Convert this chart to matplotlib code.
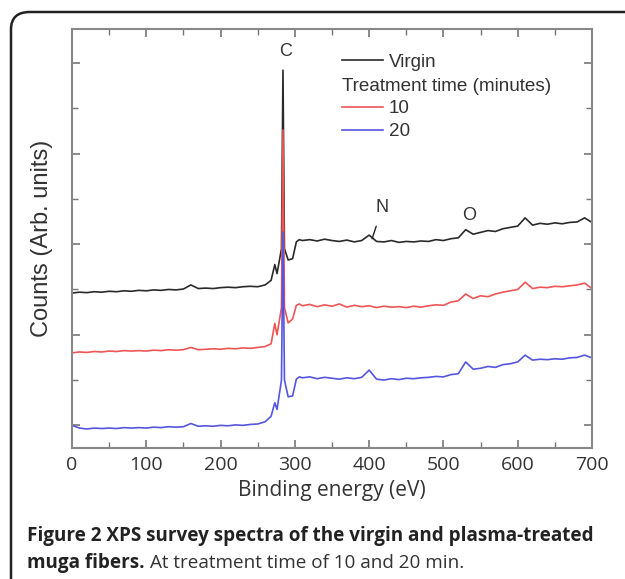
import matplotlib
matplotlib.use("Agg")
import matplotlib.pyplot as plt
from matplotlib.patches import FancyBboxPatch
from matplotlib.lines import Line2D

# binding energy grid (eV)
energy = [0, 10, 20, 30, 40, 50, 60, 70, 80, 90, 100, 110, 120, 130, 140, 150,
          160, 170, 180, 190, 200, 210, 220, 230, 240, 250, 260,
          268, 273, 276, 282, 284, 286, 291, 297, 302, 306,
          310, 320, 330, 340, 350, 360, 370, 380, 390, 400, 410, 420, 430,
          440, 450, 460, 470, 480, 490, 500, 510, 520, 530, 540, 550, 560,
          570, 580, 590, 600, 610, 620, 630, 640, 650, 660, 670, 680, 690, 700]

virgin = [3.42, 3.44, 3.43, 3.45, 3.44, 3.46, 3.45, 3.47, 3.46, 3.48, 3.47, 3.49, 3.48,
          3.50, 3.49, 3.51, 3.60, 3.52, 3.53, 3.52, 3.54, 3.55, 3.54, 3.56, 3.57, 3.56, 3.60,
          3.70, 4.05, 3.85, 4.40, 8.34, 4.40, 4.15, 4.18, 4.55, 4.60,
          4.58, 4.60, 4.57, 4.61, 4.58, 4.56, 4.59, 4.55, 4.58, 4.70, 4.56, 4.55, 4.58,
          4.54, 4.56, 4.55, 4.57, 4.56, 4.60, 4.58, 4.62, 4.64, 4.82, 4.72, 4.76, 4.80,
          4.78, 4.84, 4.87, 4.90, 5.08, 4.92, 4.96, 4.94, 4.97, 4.95, 4.98, 4.99, 5.08, 4.98]

min10 = [2.10, 2.12, 2.11, 2.13, 2.12, 2.14, 2.13, 2.15, 2.14, 2.15, 2.14, 2.16, 2.15,
         2.17, 2.16, 2.17, 2.22, 2.17, 2.18, 2.19, 2.18, 2.20, 2.19, 2.21, 2.20, 2.22, 2.24,
         2.30, 2.75, 2.50, 3.10, 7.02, 3.10, 2.76, 2.85, 3.15, 3.18,
         3.14, 3.17, 3.12, 3.16, 3.13, 3.18, 3.11, 3.15, 3.12, 3.14, 3.10, 3.13, 3.11,
         3.12, 3.10, 3.13, 3.11, 3.14, 3.16, 3.15, 3.22, 3.25, 3.40, 3.30, 3.36, 3.34,
         3.40, 3.44, 3.47, 3.50, 3.66, 3.52, 3.55, 3.54, 3.57, 3.56, 3.58, 3.60, 3.64, 3.52]

min20 = [0.50, 0.44, 0.42, 0.44, 0.43, 0.44, 0.43, 0.45, 0.44, 0.45, 0.44, 0.46, 0.45,
         0.47, 0.46, 0.47, 0.54, 0.48, 0.49, 0.48, 0.50, 0.49, 0.51, 0.50, 0.52, 0.53, 0.58,
         0.70, 1.00, 0.85, 1.50, 4.77, 1.50, 1.13, 1.15, 1.52, 1.57,
         1.55, 1.57, 1.53, 1.56, 1.54, 1.52, 1.55, 1.53, 1.56, 1.72, 1.52, 1.50, 1.53,
         1.51, 1.54, 1.53, 1.55, 1.56, 1.58, 1.57, 1.62, 1.64, 1.90, 1.74, 1.76, 1.80,
         1.78, 1.84, 1.86, 1.90, 2.05, 1.94, 1.96, 1.95, 1.97, 1.96, 1.99, 2.00, 2.05, 1.99]

x_ticks = [0, 100, 200, 300, 400, 500, 600, 700]
peak_labels = [("C", 287, 8.75), ("N", 418, 5.32), ("O", 535, 5.14)]

AX_FONT = "Liberation Sans"
TXT = "#333333"

fig = plt.figure(figsize=(6.25, 5.79), dpi=100)

# rounded frame of the figure panel (runs off the right and bottom edges)
frame = FancyBboxPatch((11 / 625, -0.05), 1.1, 1 - 12 / 579 + 0.05,
                       boxstyle="round,pad=0,rounding_size=0.03",
                       transform=fig.transFigure, fill=False,
                       edgecolor="#222222", linewidth=1.8)
fig.patches.append(frame)

ax = fig.add_axes([72 / 625, 1 - 448 / 579, 520 / 625, 419 / 579])

ax.plot(energy, virgin, color="#2a2a2a", lw=1.2)
ax.plot(energy, min10, color="#ee5555", lw=1.2)
ax.plot(energy, min20, color="#5555e0", lw=1.2)

ax.set_xlim(0, 700)
ax.set_ylim(0, 9.25)
ax.set_xticks(x_ticks)
ax.set_xticks([50, 150, 250, 350, 450, 550, 650], minor=True)
ax.set_yticks([0.5, 2.5, 4.5, 6.5, 8.5])
ax.set_yticks([1.5, 3.5, 5.5, 7.5], minor=True)
ax.set_yticklabels([])
ax.tick_params(which="both", direction="in", top=True, right=True, color="#777777")
ax.tick_params(which="major", length=6, width=1.2)
ax.tick_params(which="minor", length=4, width=1.0)
ax.tick_params(axis="x", labelsize=14, labelcolor=TXT, pad=6)
for lab in ax.get_xticklabels():
    lab.set_family("Open Sans")
for s in ax.spines.values():
    s.set_color("#888888")
    s.set_linewidth(1.5)

ax.set_xlabel("Binding energy (eV)", family="Open Sans", fontsize=15,
              color=TXT, labelpad=4)
ax.set_ylabel("Counts (Arb. units)", family=AX_FONT, fontsize=17,
              color=TXT, labelpad=10)

# peak labels
ax.text(peak_labels[0][1], peak_labels[0][2], peak_labels[0][0], family=AX_FONT,
        fontsize=13, color=TXT, ha="center", va="center")
ax.annotate(peak_labels[1][0], xy=(404, 4.62), xytext=(peak_labels[1][1], peak_labels[1][2]),
            family=AX_FONT, fontsize=13, color=TXT, ha="center", va="center",
            arrowprops=dict(arrowstyle="-", color="#222222", lw=1.0, shrinkA=6, shrinkB=0))
ax.text(peak_labels[2][1], peak_labels[2][2], peak_labels[2][0], family=AX_FONT,
        fontsize=13, color=TXT, ha="center", va="center")

# legend
LEG = 13.6
h_v = Line2D([], [], color="#2a2a2a", lw=1.2)
h_10 = Line2D([], [], color="#ee5555", lw=1.2)
h_20 = Line2D([], [], color="#5555e0", lw=1.2)
leg1 = ax.legend([h_v], ["Virgin"], loc="upper left", bbox_to_anchor=(0.519, 0.942),
                 frameon=False, prop={"family": AX_FONT, "size": LEG},
                 handlelength=2.2, handletextpad=0.3, borderaxespad=0, borderpad=0)
for t in leg1.get_texts():
    t.set_color(TXT)
ax.add_artist(leg1)
leg2 = ax.legend([h_10, h_20], ["10", "20"], loc="upper left",
                 bbox_to_anchor=(0.519, 0.884), frameon=False,
                 title="Treatment time (minutes)", alignment="left",
                 prop={"family": AX_FONT, "size": LEG},
                 title_fontproperties={"family": AX_FONT, "size": LEG},
                 handlelength=2.2, handletextpad=0.3, borderaxespad=0, borderpad=0,
                 labelspacing=0.3)
leg2.get_title().set_color(TXT)
for t in leg2.get_texts():
    t.set_color(TXT)

# caption
CAP = 13.6
fig.text(27 / 625, 1 - 536 / 579,
         "Figure 2 XPS survey spectra of the virgin and plasma-treated",
         family="Open Sans", weight="bold", fontsize=CAP, color="#222222",
         va="center", ha="left")
t1 = fig.text(27 / 625, 1 - 563 / 579, "muga fibers.", family="Open Sans",
              weight="bold", fontsize=CAP, color="#222222", va="center", ha="left")
fig.canvas.draw()
bb = t1.get_window_extent()
fig.text(bb.x1 / fig.bbox.width + 0.008, 1 - 563 / 579,
         "At treatment time of 10 and 20 min.", family="Open Sans",
         fontsize=CAP, color="#333333", va="center", ha="left")

fig.savefig("out.png", dpi=100)
